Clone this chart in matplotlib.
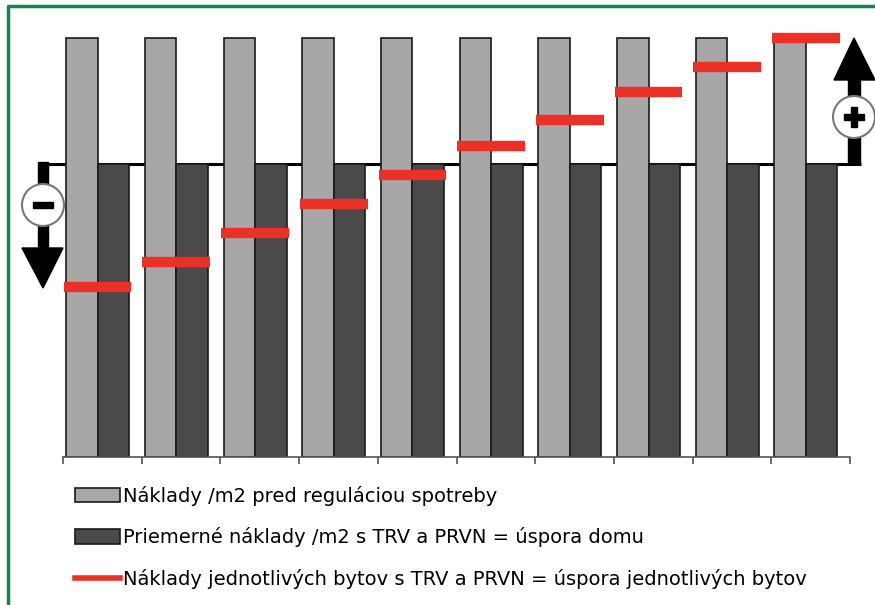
import matplotlib
matplotlib.use("Agg")
import matplotlib.pyplot as plt
import numpy as np
from matplotlib.patches import Patch, Rectangle, Circle, Polygon
from matplotlib.lines import Line2D
from matplotlib.transforms import Affine2D

plt.rcParams['font.family'] = ['DejaVu Sans']

# data (light bar = 100)
flats = np.arange(10)
cost_before = [100, 100, 100, 100, 100, 100, 100, 100, 100, 100]
cost_avg = [70, 70, 70, 70, 70, 70, 70, 70, 70, 70]
cost_flat = [40.6, 46.5, 53.5, 60.4, 67.3, 74.2, 80.4, 87.1, 93.1, 100.0]
labels = ["Náklady /m2 pred reguláciou spotreby",
          "Priemerné náklady /m2 s TRV a PRVN = úspora domu",
          "Náklady jednotlivých bytov s TRV a PRVN = úspora jednotlivých bytov"]

W, H = 875, 605
fig = plt.figure(figsize=(W / 100, H / 100), dpi=100)
fig.patch.set_facecolor('white')

# pixel transform (origin top-left) for the decorations
px = Affine2D().scale(1 / W, -1 / H).translate(0, 1) + fig.transFigure

# axes: x 63..850 px, y baseline 457, top value 100 at y=38
y0, y100 = 457, 38
ytop = 28
ax = fig.add_axes([63 / W, (H - y0) / H, (850 - 63) / W, (y0 - ytop) / H])
ax.set_xlim(-0.5, 9.5)
ax.set_ylim(0, 100 * (y0 - ytop) / (y0 - y100))

light = '#a7a7a7'
dark = '#4a4a4a'
red = '#ec2f27'

bw = 0.4
shift = -0.06   # bar pairs sit a little left of the slot centre
ax.bar(flats + shift - bw / 2, cost_before, width=bw, color=light, edgecolor='#1a1a1a', linewidth=1.2, zorder=2)
ax.bar(flats + shift + bw / 2, cost_avg, width=bw, color=dark, edgecolor='#1a1a1a', linewidth=1.2, zorder=2)
ax.hlines(cost_flat, flats + shift - 0.43, flats + shift + 0.43, colors=red, linewidth=7.5, zorder=4, clip_on=False)

# horizontal level of the house average, extended to the arrows
ax.hlines(cost_avg[0], -0.82, 9.64, colors='black', linewidth=2.2, zorder=1, clip_on=False)

ax.set_xticks(np.arange(-0.5, 10, 1))
ax.set_xticklabels([])
ax.set_yticks([])
ax.tick_params(axis='x', length=5, width=1.2, color='#555555', direction='out')
for s in ['top', 'left', 'right']:
    ax.spines[s].set_visible(False)
ax.spines['bottom'].set_color('#555555')
ax.spines['bottom'].set_linewidth(1.2)
ax.patch.set_alpha(0)

# left arrow (down, minus)
fig.patches.append(Rectangle((38, 162), 10, 90, transform=px, color='black', zorder=5))
fig.patches.append(Polygon([(22, 248), (63, 248), (43, 288)], closed=True, transform=px, color='black', zorder=5))
fig.patches.append(Circle((43, 205), 21, transform=px, facecolor='white', edgecolor='#777777', linewidth=1.5, zorder=6))
fig.patches.append(Rectangle((33, 202), 20, 6, transform=px, color='black', zorder=7))

# right arrow (up, plus)
fig.patches.append(Rectangle((848, 78), 12, 86, transform=px, color='black', zorder=5))
fig.patches.append(Polygon([(834, 80), (875, 80), (854, 38)], closed=True, transform=px, color='black', zorder=5))
fig.patches.append(Circle((854, 117), 21, transform=px, facecolor='white', edgecolor='#777777', linewidth=1.5, zorder=6))
fig.patches.append(Rectangle((844, 114), 20, 6, transform=px, color='black', zorder=7))
fig.patches.append(Rectangle((851, 107), 6, 20, transform=px, color='black', zorder=7))

# green frame
fig.lines.append(Line2D([8, 8, W], [H, 6, 6], transform=px, color='#16874a', linewidth=2.5))

# legend
handles = [Patch(facecolor=light, edgecolor='#1a1a1a', linewidth=1.2),
           Patch(facecolor=dark, edgecolor='#1a1a1a', linewidth=1.2),
           Line2D([0], [0], color=red, linewidth=4)]
fig.legend(handles, labels, loc='upper left', bbox_to_anchor=(75 / W, 1 - 486 / H),
           frameon=False, fontsize=14, handlelength=2.3, handleheight=0.77,
           handletextpad=0.15, labelspacing=1.1, borderpad=0, borderaxespad=0)

fig.savefig('out.png', dpi=100)
